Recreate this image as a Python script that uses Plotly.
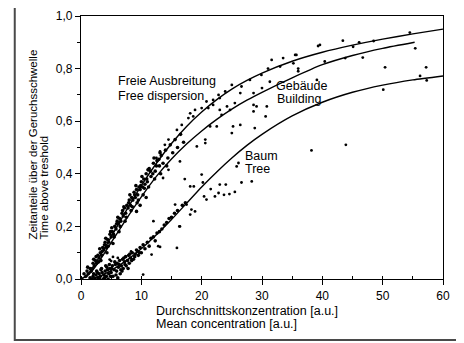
import plotly.graph_objects as go

# ---- fitted curves ----
free_curve_x = [0, 1, 2, 3, 4, 5, 7.5, 10, 12.5, 15, 17.5, 20, 22.5, 25, 27.5, 30, 35, 40, 45, 50, 55, 60]
free_curve_y = [0, 0.015, 0.045, 0.082, 0.121, 0.16, 0.26, 0.355, 0.44, 0.515, 0.58, 0.635, 0.682,
                0.722, 0.755, 0.783, 0.828, 0.862, 0.889, 0.912, 0.932, 0.95]

building_curve_x = [0, 1, 2, 3, 4, 5, 7.5, 10, 12.5, 15, 17.5, 20, 22.5, 25, 27.5, 30, 35, 40, 45, 50, 55.3]
building_curve_y = [0, 0.012, 0.035, 0.067, 0.102, 0.138, 0.228, 0.312, 0.39, 0.456, 0.513, 0.563,
                    0.607, 0.646, 0.68, 0.71, 0.765, 0.815, 0.85, 0.877, 0.90]

tree_curve_x = [1.5, 3, 5, 7.5, 10, 12.5, 15, 17.5, 20, 22.5, 25, 27.5, 30, 35, 40, 45, 50, 55, 60]
tree_curve_y = [0, 0.01, 0.033, 0.07, 0.115, 0.168, 0.226, 0.288, 0.35, 0.407, 0.46, 0.508, 0.55,
                0.62, 0.672, 0.71, 0.737, 0.757, 0.772]

band_pts = [
    (0.5, 0.02), (0.8, 0.01), (1.0, 0.03), (1.2, 0.02), (1.5, 0.04), (1.7, 0.03),
    (2.0, 0.06), (2.2, 0.05), (2.4, 0.07), (2.6, 0.06), (2.8, 0.09), (3.0, 0.08),
    (3.2, 0.10), (3.4, 0.09), (3.6, 0.12), (3.8, 0.11), (4.0, 0.14), (4.2, 0.12),
    (4.4, 0.15), (4.6, 0.14), (4.8, 0.17), (5.0, 0.16), (5.2, 0.18), (5.4, 0.17),
    (5.6, 0.20), (5.8, 0.19), (6.0, 0.22), (6.2, 0.21), (6.4, 0.23), (6.6, 0.22),
    (6.8, 0.25), (7.0, 0.24), (7.2, 0.27), (7.4, 0.25), (7.6, 0.28), (7.8, 0.27),
    (8.0, 0.30), (8.2, 0.28), (8.4, 0.31), (8.6, 0.30), (8.8, 0.33), (9.0, 0.31),
    (9.2, 0.34), (9.4, 0.32), (9.6, 0.35), (9.8, 0.34), (10.0, 0.37), (10.2, 0.35),
    (10.4, 0.38), (10.6, 0.36), (10.8, 0.40), (11.0, 0.37), (11.3, 0.42), (11.6, 0.39),
    (12.0, 0.44), (12.3, 0.41), (12.6, 0.45), (13.0, 0.43), (13.3, 0.47), (13.6, 0.44),
    (14.0, 0.49), (14.4, 0.46), (14.8, 0.51), (15.2, 0.48), (15.6, 0.53), (16.0, 0.50),
    (16.5, 0.55), (17.0, 0.52),
    (2.1, 0.075), (3.1, 0.115), (4.1, 0.155), (5.1, 0.195), (6.1, 0.235), (7.1, 0.275),
    (8.1, 0.32), (9.1, 0.355), (10.1, 0.39), (11.1, 0.415), (12.1, 0.46), (13.1, 0.48),
    (3.3, 0.07), (4.3, 0.10), (5.3, 0.135), (6.3, 0.18), (7.3, 0.22), (8.3, 0.26),
    (9.3, 0.29), (10.3, 0.32), (11.2, 0.35), (12.2, 0.38), (13.2, 0.40), (14.2, 0.43),
    (1.1, 0.045), (1.9, 0.04), (2.5, 0.085), (2.9, 0.065), (3.5, 0.105), (3.9, 0.13),
    (4.5, 0.125), (4.9, 0.18), (5.5, 0.16), (5.9, 0.21), (6.5, 0.20), (6.9, 0.26),
    (7.5, 0.235), (7.9, 0.29), (8.5, 0.275), (8.9, 0.32), (9.5, 0.30), (9.9, 0.355),
    (10.5, 0.345), (10.9, 0.38), (11.5, 0.41), (11.9, 0.40), (12.5, 0.43), (12.9, 0.455),
    (9.2, 0.257), (9.8, 0.28), (10.8, 0.31),
]

free_pts = [
    (12.5, 0.46), (13.1, 0.485), (13.9, 0.51), (14.5, 0.53), (15.9, 0.567), (16.7, 0.586),
    (17.8, 0.612), (18.1, 0.63), (18.6, 0.618), (18.9, 0.643), (20.0, 0.65), (20.8, 0.675),
    (21.9, 0.662), (21.9, 0.681), (23.0, 0.688), (22.8, 0.70), (23.9, 0.713), (25.0, 0.738),
    (26.6, 0.732), (28.0, 0.757), (29.9, 0.776), (31.0, 0.80), (31.6, 0.833), (33.0, 0.808),
    (33.5, 0.84), (35.2, 0.82), (35.7, 0.852), (36.0, 0.79), (39.3, 0.886), (39.6, 0.89),
    (43.4, 0.906), (45.1, 0.883), (46.1, 0.90), (48.5, 0.905), (54.5, 0.937),
]

building_pts = [
    (13.6, 0.384), (14.5, 0.415), (16.4, 0.447), (19.2, 0.504), (20.6, 0.53), (20.6, 0.517),
    (21.4, 0.58), (22.5, 0.58), (23.3, 0.624), (24.7, 0.643), (23.0, 0.643), (24.2, 0.656),
    (21.1, 0.65), (25.5, 0.669), (26.4, 0.707), (28.6, 0.707), (30.0, 0.726), (31.3, 0.75),
    (29.1, 0.656), (28.6, 0.637), (30.8, 0.656), (30.6, 0.618), (28.6, 0.662), (25.2, 0.58),
    (28.8, 0.574), (25.0, 0.555), (26.4, 0.586), (40.4, 0.827), (43.8, 0.84), (46.7, 0.842),
    (36.0, 0.80), (39.1, 0.757), (35.5, 0.852), (55.4, 0.877), (50.4, 0.805), (57.2, 0.805),
]

tree_band_pts = [
    (1.5, 0.005), (2.0, 0.01), (2.3, 0.0), (2.5, 0.015), (2.8, 0.005), (3.0, 0.02),
    (3.2, 0.01), (3.5, 0.025), (3.7, 0.0), (3.8, 0.015), (4.0, 0.03), (4.2, 0.01),
    (4.4, 0.035), (4.6, 0.02), (4.8, 0.04), (5.0, 0.025), (5.2, 0.05), (5.3, 0.01),
    (5.5, 0.035), (5.7, 0.055), (5.9, 0.03), (6.0, 0.06), (6.2, 0.045), (6.4, 0.07),
    (6.5, 0.02), (6.7, 0.05), (6.9, 0.075), (7.0, 0.04), (7.2, 0.065), (7.4, 0.085),
    (7.5, 0.05), (7.7, 0.07), (7.9, 0.09), (8.0, 0.06), (8.2, 0.08), (8.5, 0.10),
    (8.7, 0.075), (9.0, 0.095), (9.2, 0.11), (9.5, 0.09), (9.8, 0.12), (10.0, 0.10),
    (10.3, 0.13), (10.6, 0.115), (11.0, 0.14), (11.3, 0.125), (11.6, 0.155), (12.0, 0.16),
    (12.3, 0.145), (12.6, 0.175), (13.0, 0.18), (13.4, 0.19), (13.8, 0.205), (14.2, 0.215),
    (14.6, 0.23), (15.0, 0.235), (15.5, 0.25), (16.0, 0.26), (16.8, 0.28), (17.3, 0.29),
    (2.6, 0.03), (3.4, 0.04), (4.1, 0.05), (4.9, 0.01), (5.8, 0.015), (6.8, 0.03),
    (7.8, 0.04), (3.9, 0.005), (4.5, 0.0), (6.1, 0.005),
    (1.8, 0.0), (2.1, 0.02), (2.7, 0.025), (3.1, 0.0), (3.3, 0.035), (4.3, 0.045),
    (4.7, 0.055), (5.1, 0.04), (5.6, 0.065), (6.3, 0.055), (6.6, 0.035), (7.1, 0.08),
    (7.3, 0.055), (8.1, 0.095), (8.4, 0.07), (8.9, 0.085), (9.4, 0.105), (9.7, 0.1),
]

tree_pts = [
    (17.2, 0.38), (18.1, 0.352), (18.7, 0.352), (20.0, 0.397), (20.2, 0.367), (21.5, 0.342),
    (20.4, 0.314), (20.8, 0.302), (23.0, 0.359), (24.0, 0.359), (22.8, 0.327), (23.7, 0.32),
    (24.6, 0.323), (25.5, 0.331), (26.6, 0.367), (28.3, 0.371), (25.8, 0.428), (26.1, 0.441),
    (38.2, 0.489), (43.9, 0.51), (17.5, 0.283), (18.3, 0.264), (18.1, 0.245), (18.9, 0.257),
    (16.4, 0.2), (15.9, 0.118), (10.3, 0.017), (15.6, 0.283), (12.0, 0.22), (13.1, 0.122),
    (11.7, 0.093), (16.3, 0.2), (22.2, 0.314), (50.1, 0.72), (57.3, 0.755), (56.2, 0.772),
    (8.3, 0.105), (12.8, 0.125), (5.0, 0.068), (6.1, 0.08), (4.75, 0.074), (5.3, 0.084),
]

x_tick_vals = [0, 10, 20, 30, 40, 50, 60]
x_tick_text = ["0", "10", "20", "30", "40", "50", "60"]
y_tick_vals = [0.0, 0.2, 0.4, 0.6, 0.8, 1.0]
y_tick_text = ["0,0", "0,2", "0,4", "0,6", "0,8", "1,0"]

FONT = "Liberation Sans, Arial, sans-serif"

fig = go.Figure()


def add_pts(pts, size):
    fig.add_trace(go.Scatter(
        x=[p[0] for p in pts], y=[p[1] for p in pts], mode="markers",
        marker=dict(color="black", size=size, line=dict(width=0)),
        showlegend=False, hoverinfo="skip"))


add_pts(band_pts, 3.6)
add_pts(tree_band_pts, 3.6)
add_pts(free_pts, 2.8)
add_pts(building_pts, 2.8)
add_pts(tree_pts, 2.8)

for cx, cy in ((free_curve_x, free_curve_y), (building_curve_x, building_curve_y),
               (tree_curve_x, tree_curve_y)):
    fig.add_trace(go.Scatter(x=cx, y=cy, mode="lines",
                             line=dict(color="black", width=1.4, shape="spline", smoothing=0.6),
                             showlegend=False, hoverinfo="skip"))

# curve labels
labels = [
    ("Freie Ausbreitung", 5.8, 0.751), ("Free dispersion", 5.8, 0.694),
    ("Gebäude", 32.0, 0.732), ("Building", 32.2, 0.684),
    ("Baum", 26.8, 0.466), ("Tree", 26.9, 0.418),
]
for t, x, y in labels:
    fig.add_annotation(text=t, x=x, y=y, xref="x", yref="y", showarrow=False,
                       xanchor="left", yanchor="middle",
                       font=dict(family=FONT, size=12.5, color="black"))

# axis titles
fig.add_annotation(text="Zeitanteile über der Geruchsschwelle", textangle=-90,
                   x=-0.1326, y=0.1423, xref="paper", yref="paper", showarrow=False,
                   xanchor="center", yanchor="bottom",
                   font=dict(family=FONT, size=11.5, color="black"))
fig.add_annotation(text="Time above treshold", textangle=-90,
                   x=-0.1022, y=0.1423, xref="paper", yref="paper", showarrow=False,
                   xanchor="center", yanchor="bottom",
                   font=dict(family=FONT, size=11.5, color="black"))
fig.add_annotation(text="Durchschnittskonzentration [a.u.]",
                   x=0.2017, y=-0.122, xref="paper", yref="paper", showarrow=False,
                   xanchor="left", yanchor="middle",
                   font=dict(family=FONT, size=12.5, color="black"))
fig.add_annotation(text="Mean concentration [a.u.]",
                   x=0.2017, y=-0.170, xref="paper", yref="paper", showarrow=False,
                   xanchor="left", yanchor="middle",
                   font=dict(family=FONT, size=12.5, color="black"))

# outer frame
fig.add_shape(type="rect", xref="paper", yref="paper",
              x0=-0.183, x1=1.0400, y0=-0.2315, y1=1.0400,
              line=dict(color="#4a4a4a", width=2), fillcolor="rgba(0,0,0,0)", layer="below")

axis_common = dict(showgrid=False, zeroline=False, showline=True, linecolor="black",
                   linewidth=1.3, mirror=True, ticks="outside", tickcolor="black",
                   tickwidth=1.2, ticklen=5,
                   tickfont=dict(family=FONT, size=12, color="black"))

fig.update_xaxes(range=[0, 60], tickvals=x_tick_vals, ticktext=x_tick_text,
                 minor=dict(dtick=5, ticks="inside", ticklen=3, tickcolor="black", tickwidth=1),
                 **axis_common)
fig.update_yaxes(range=[0, 1.0], tickvals=y_tick_vals, ticktext=y_tick_text,
                 minor=dict(dtick=0.1, ticks="outside", ticklen=3, tickcolor="black", tickwidth=1),
                 **axis_common)

# the page adds an 8 px body margin, so the figure is made 8 px smaller and margins shifted
fig.update_layout(width=456, height=335,
                  margin=dict(l=73, r=21, t=8, b=63.5, autoexpand=False),
                  paper_bgcolor="white", plot_bgcolor="white",
                  font=dict(family=FONT, color="black"))

fig.write_html("out.html")
